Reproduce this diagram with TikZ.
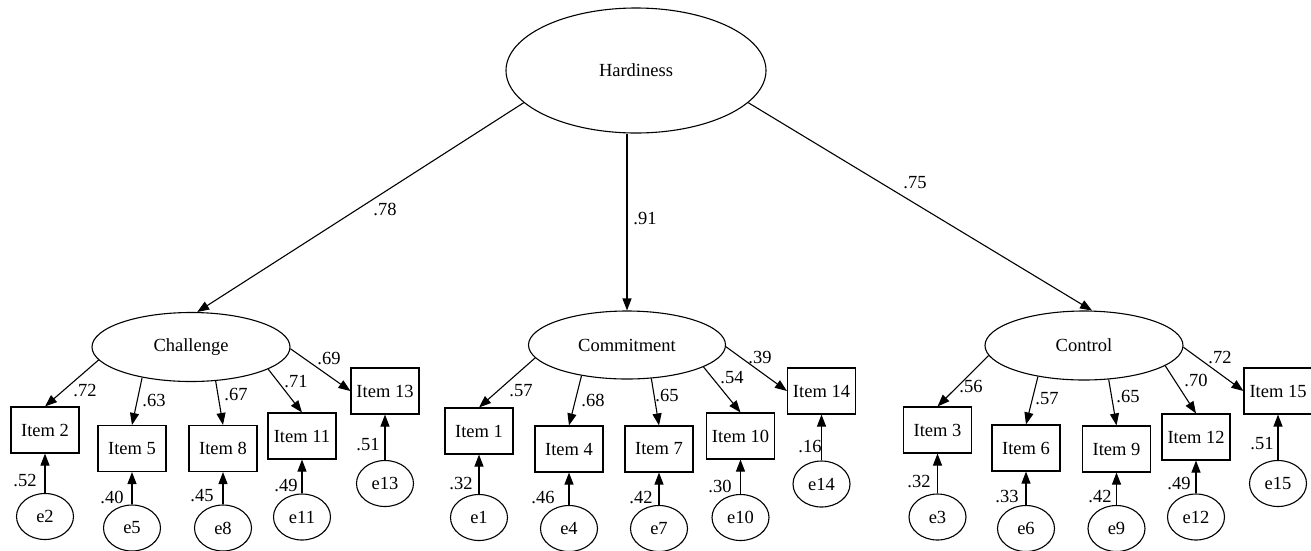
\documentclass[tikz,border=0pt]{standalone}
\usepackage{fontspec}
\setmainfont{Liberation Serif}
\usetikzlibrary{shapes.geometric,arrows.meta}
\begin{document}
\begin{tikzpicture}[x=1pt,y=-1pt,
  font=\fontsize{18.5}{21}\selectfont,
  lat/.style={draw,ellipse,inner sep=0pt,line width=1.1pt},
  errnode/.style={draw,ellipse,inner sep=0pt,minimum width=57pt,minimum height=46pt,line width=1.1pt},
  obs/.style={draw,rectangle,inner sep=0pt,minimum width=68pt,minimum height=46pt,line width=1.1pt},
  arr/.style={-{Triangle[length=12pt,width=9pt]},line width=1.1pt},
  lab/.style={inner sep=0pt}]
\useasboundingbox (0,0) rectangle (1311,550);

% latent variables
\node[lat,minimum width=260pt,minimum height=125pt] (H) at (636,70.5) {Hardiness};
\node[lat,minimum width=198pt,minimum height=69pt] (Ch) at (191,347) {Challenge};
\node[lat,minimum width=197pt,minimum height=68pt] (Cm) at (627,345) {Commitment};
\node[lat,minimum width=198pt,minimum height=69pt] (Co) at (1084,345.5) {Control};

% Challenge items
\node[obs] (i2) at (45,430) {Item 2};
\node[obs] (i5) at (132,448.5) {Item 5};
\node[obs] (i8) at (223,448.5) {Item 8};
\node[obs] (i11) at (302,436) {Item 11};
\node[obs] (i13) at (385,391) {Item 13};
% Commitment items
\node[obs] (i1) at (479,431) {Item 1};
\node[obs] (i4) at (569,449) {Item 4};
\node[obs] (i7) at (659,449) {Item 7};
\node[obs] (i10) at (740.5,436) {Item 10};
\node[obs] (i14) at (821.5,391) {Item 14};
% Control items
\node[obs] (i3) at (937.5,430) {Item 3};
\node[obs] (i6) at (1026,448) {Item 6};
\node[obs] (i9) at (1116.5,449) {Item 9};
\node[obs] (i12) at (1196,437) {Item 12};
\node[obs] (i15) at (1278,391) {Item 15};

% errors
\node[errnode] (e2) at (45,516.5) {e2};
\node[errnode] (e5) at (132,528) {e5};
\node[errnode] (e8) at (223,528) {e8};
\node[errnode] (e11) at (302,517) {e11};
\node[errnode] (e13) at (385,483.5) {e13};
\node[errnode] (e1) at (479,517.5) {e1};
\node[errnode] (e4) at (569,528.5) {e4};
\node[errnode] (e7) at (659,528.5) {e7};
\node[errnode] (e10) at (740.5,517.5) {e10};
\node[errnode] (e14) at (821.5,484) {e14};
\node[errnode] (e3) at (937.5,517) {e3};
\node[errnode] (e6) at (1026,528.5) {e6};
\node[errnode] (e9) at (1116.5,528.5) {e9};
\node[errnode] (e12) at (1196,517) {e12};
\node[errnode] (e15) at (1278,483.5) {e15};

% second-order paths
\draw[arr] (H.196) -- (Ch.80);
\draw[arr] (Cm.north |- H.south) -- (Cm.north);
\draw[arr] (H.344) -- (Co.77);
\node[lab] at (385,209) {.78};
\node[lab] at (645,218) {.91};
\node[lab] at (915,183) {.75};

% Challenge loadings
\draw[arr] (Ch.188) -- (i2.north);
\draw[arr] (Ch.212) -- (i5.north);
\draw[arr] (Ch.306) -- (i8.north);
\draw[arr] (Ch.344) -- (i11.north);
\draw[arr] (Ch.359) -- (i13.west);
\node[lab] at (85,390) {.72};
\node[lab] at (154,400) {.63};
\node[lab] at (236,394) {.67};
\node[lab] at (296,382) {.71};
\node[lab] at (329,358) {.69};

% Commitment loadings
\draw[arr] (Cm.188) -- (i1.north);
\draw[arr] (Cm.214) -- (i4.north);
\draw[arr] (Cm.306) -- (i7.north);
\draw[arr] (Cm.344) -- (i10.north);
\draw[arr] (Cm.359) -- (i14.west);
\node[lab] at (521,391) {.57};
\node[lab] at (593,400) {.68};
\node[lab] at (667,395) {.65};
\node[lab] at (732,378) {.54};
\node[lab] at (760,357) {.39};

% Control loadings
\draw[arr] (Co.186) -- (i3.north);
\draw[arr] (Co.214) -- (i6.north);
\draw[arr] (Co.306) -- (i9.north);
\draw[arr] (Co.346) -- (i12.north);
\draw[arr] (Co.359) -- (i15.west);
\node[lab] at (971,386) {.56};
\node[lab] at (1047,399) {.57};
\node[lab] at (1128,396) {.65};
\node[lab] at (1196,380) {.70};
\node[lab] at (1220,357) {.72};

% error paths
\foreach \e/\i in {e2/i2,e5/i5,e8/i8,e11/i11,e13/i13,e1/i1,e4/i4,e7/i7,e10/i10,e14/i14,e3/i3,e6/i6,e9/i9,e12/i12,e15/i15}
  \draw[arr] (\e.north) -- (\i.south);
\node[lab] at (25,480) {.52};
\node[lab] at (112,497) {.40};
\node[lab] at (202,496) {.45};
\node[lab] at (286,485) {.49};
\node[lab] at (368,445) {.51};
\node[lab] at (461,483) {.32};
\node[lab] at (543,497) {.46};
\node[lab] at (641,497) {.42};
\node[lab] at (720,486) {.30};
\node[lab] at (810,446) {.16};
\node[lab] at (919,481) {.32};
\node[lab] at (1007,496) {.33};
\node[lab] at (1100,496) {.42};
\node[lab] at (1179,483) {.49};
\node[lab] at (1262,444) {.51};
\end{tikzpicture}
\end{document}
